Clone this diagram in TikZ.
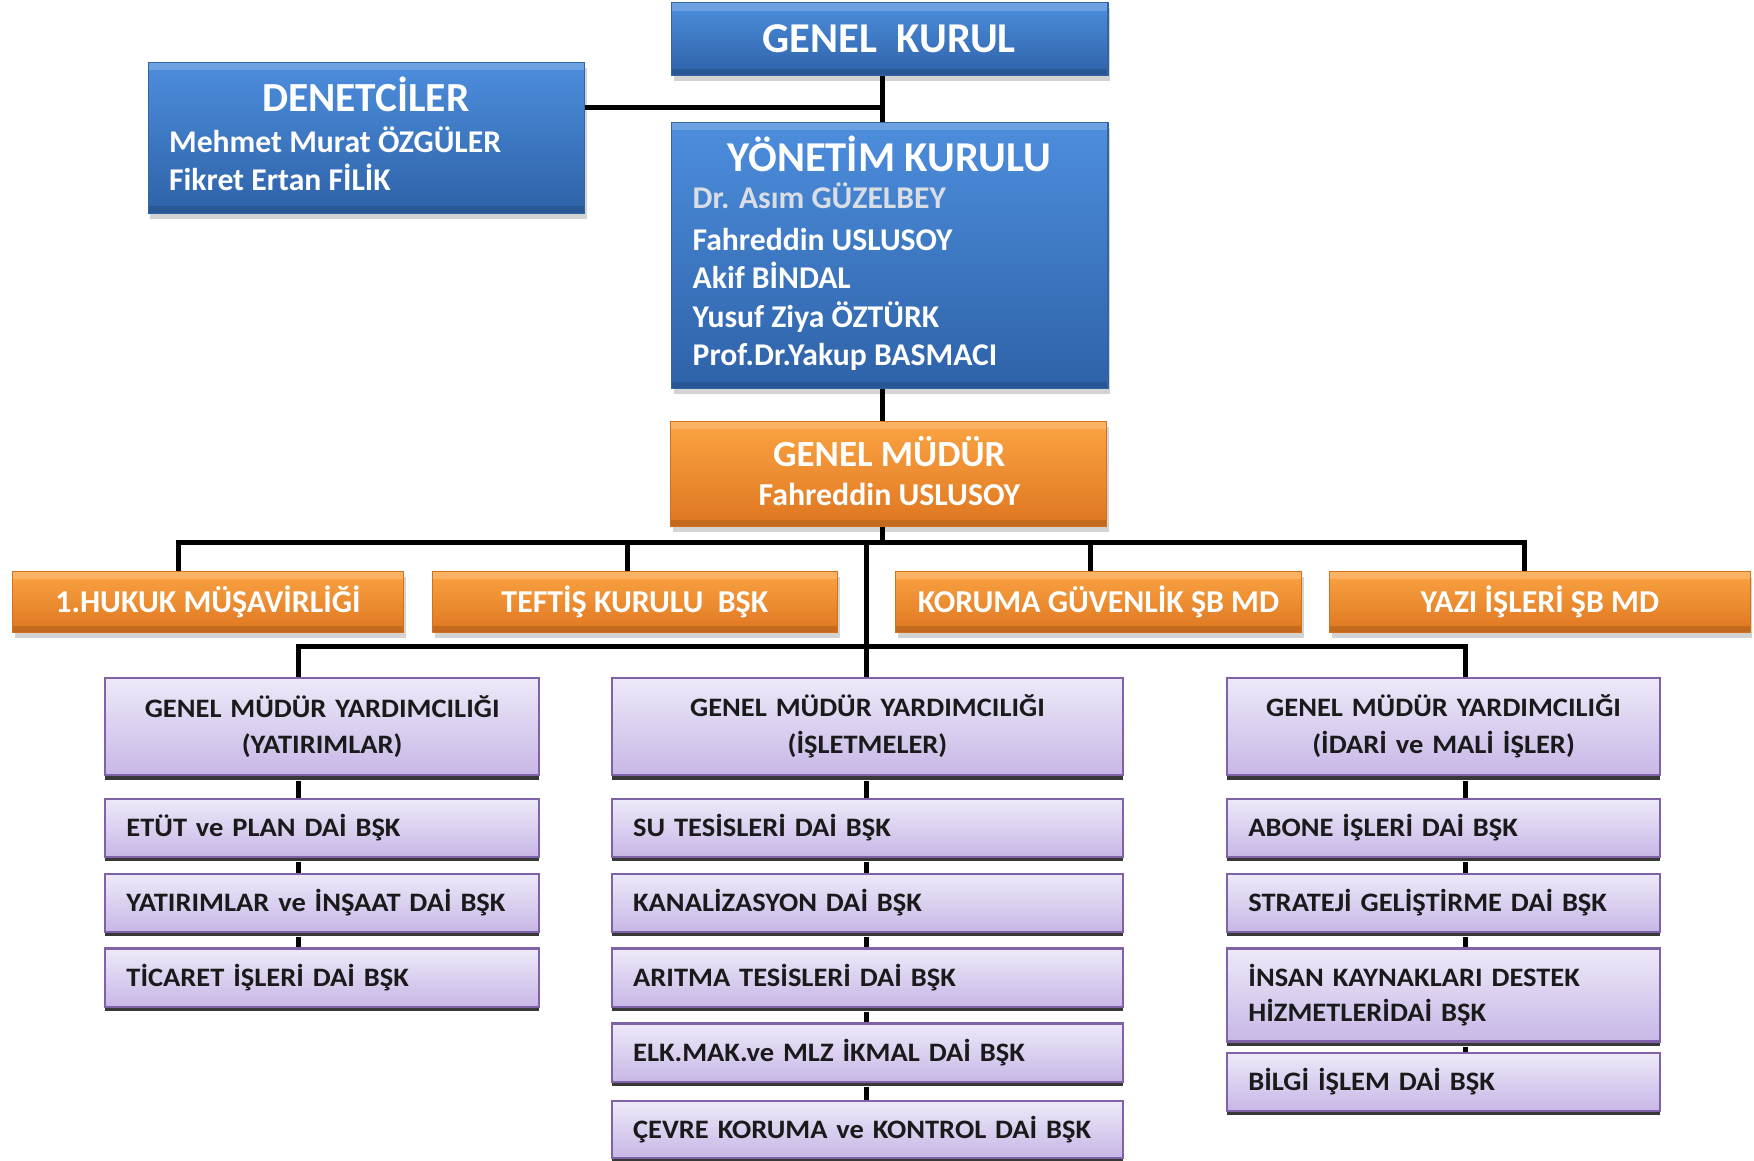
\documentclass[tikz,border=0pt]{standalone}
\usepackage{fontspec}
\setmainfont{Carlito}
\newfontfamily\purfont{Carlito}[FakeStretch=1.07]
\usetikzlibrary{shadows}
\definecolor{bluetop}{HTML}{4D8EDD}
\definecolor{bluebot}{HTML}{2E62A8}
\definecolor{blueedge}{HTML}{3464A3}
\definecolor{orgtop}{HTML}{FBA443}
\definecolor{orgbot}{HTML}{DE7620}
\definecolor{orgedge}{HTML}{D2701E}
\definecolor{purtop}{HTML}{EEE9F9}
\definecolor{purbot}{HTML}{C7B7E6}
\definecolor{puredge}{HTML}{7F62A8}
\definecolor{namegray}{HTML}{D9DEE6}
\definecolor{txtdark}{HTML}{1A1A1A}
\begin{document}
\begin{tikzpicture}[x=1pt,y=-1pt,
  bevel/.style={path picture={\fill[white,opacity=0.18] (path picture bounding box.north west) rectangle ([yshift=-7pt]path picture bounding box.north east);
     \fill[black,opacity=0.12] (path picture bounding box.south west) rectangle ([yshift=6pt]path picture bounding box.south east);}},
  bluebox/.style={rectangle, anchor=north west, inner sep=0pt, top color=bluetop, bottom color=bluebot, draw=blueedge, line width=1pt, bevel,
     drop shadow={shadow xshift=2pt, shadow yshift=-5pt, opacity=0.35}},
  orangebox/.style={rectangle, anchor=north west, inner sep=0pt, top color=orgtop, bottom color=orgbot, draw=orgedge, line width=1pt, bevel,
     drop shadow={shadow xshift=2pt, shadow yshift=-5pt, opacity=0.35},
     font=\fontsize{28.5}{32}\selectfont\bfseries, text=white},
  purplebox/.style={rectangle, anchor=north west, inner ysep=0pt, inner xsep=19pt, top color=purtop, bottom color=purbot, draw=puredge, line width=2pt,
     drop shadow={shadow xshift=0pt, shadow yshift=-4pt, fill=black!78, opacity=1},
     font=\purfont\fontsize{23.8}{33}\selectfont\bfseries, text=txtdark, align=left},
  titletext/.style={anchor=base, inner sep=0pt, text=white, font=\fontsize{37}{40}\selectfont\bfseries},
  nametext/.style={anchor=base west, inner sep=0pt, text=white, font=\fontsize{28.3}{30}\selectfont\bfseries},
  conn/.style={line width=4.5pt, black},
]
\useasboundingbox (0,0) rectangle (1568,1037);

% ---------- top level boxes ----------
\node[bluebox, minimum width=390pt, minimum height=65pt] (gk) at (600,2) {};
\node[titletext, font=\fontsize{38}{40}\selectfont\bfseries] (gkt) at (795,47) {GENEL\ \ KURUL};

\node[bluebox, minimum width=390pt, minimum height=135pt] (den) at (132,55) {};
\node[titletext, font=\fontsize{37}{40}\selectfont\bfseries] (dent) at (327,100) {DENETCİLER};
\node[nametext] (den1) at (151,136) {Mehmet Murat ÖZGÜLER};
\node[nametext] (den2) at (151,170) {Fikret Ertan FİLİK};

\node[bluebox, minimum width=390pt, minimum height=238pt] (yk) at (600,109) {};
\node[titletext, font=\fontsize{38}{40}\selectfont\bfseries] (ykt) at (795,153) {YÖNETİM KURULU};
\node[nametext, text=namegray] (yk1) at (619,186) {Dr. Asım GÜZELBEY};
\node[nametext] (yk2) at (619,224) {Fahreddin USLUSOY};
\node[nametext] (yk3) at (619,258) {Akif BİNDAL};
\node[nametext] (yk4) at (619,293) {Yusuf Ziya ÖZTÜRK};
\node[nametext] (yk5) at (619,327) {Prof.Dr.Yakup BASMACI};

\node[orangebox, minimum width=390pt, minimum height=94pt] (gm) at (599,376) {};
\node[titletext, font=\fontsize{33}{40}\selectfont\bfseries] (gmt) at (795,417) {GENEL MÜDÜR};
\node[titletext, font=\fontsize{28.5}{30}\selectfont\bfseries] (gmn) at (795,451.5) {Fahreddin USLUSOY};

% ---------- orange row ----------
\node[orangebox, minimum width=349pt, minimum height=55pt] (hukuk) at (11,510) {1.HUKUK MÜŞAVİRLİĞİ};
\node[orangebox, minimum width=362pt, minimum height=55pt] (teftis) at (386,510) {TEFTİŞ KURULU\ \ BŞK};
\node[orangebox, minimum width=363pt, minimum height=55pt] (koruma) at (800,510) {KORUMA GÜVENLİK ŞB MD};
\node[orangebox, minimum width=376pt, minimum height=55pt] (yazi) at (1188,510) {YAZI İŞLERİ ŞB MD};

% ---------- column 1 ----------
\node[purplebox, text width=350pt, minimum height=87pt, align=center] (gmy1) at (93,605) {GENEL MÜDÜR YARDIMCILIĞI\\(YATIRIMLAR)};
\node[purplebox, text width=350pt, minimum height=52pt] (c1a) at (93,713) {ETÜT ve PLAN DAİ BŞK};
\node[purplebox, text width=350pt, minimum height=52pt] (c1b) at (93,780) {YATIRIMLAR ve İNŞAAT DAİ BŞK};
\node[purplebox, text width=350pt, minimum height=52pt] (c1c) at (93,847) {TİCARET İŞLERİ DAİ BŞK};

% ---------- column 2 ----------
\node[purplebox, text width=419pt, minimum height=87pt, align=center] (gmy2) at (546,605) {GENEL MÜDÜR YARDIMCILIĞI\\(İŞLETMELER)};
\node[purplebox, text width=419pt, minimum height=52pt] (c2a) at (546,713) {SU TESİSLERİ DAİ BŞK};
\node[purplebox, text width=419pt, minimum height=52pt] (c2b) at (546,780) {KANALİZASYON DAİ BŞK};
\node[purplebox, text width=419pt, minimum height=52pt] (c2c) at (546,847) {ARITMA TESİSLERİ DAİ BŞK};
\node[purplebox, text width=419pt, minimum height=52pt] (c2d) at (546,914) {ELK.MAK.ve MLZ İKMAL DAİ BŞK};
\node[purplebox, text width=419pt, minimum height=51pt] (c2e) at (546,983) {ÇEVRE KORUMA ve KONTROL DAİ BŞK};

% ---------- column 3 ----------
\node[purplebox, text width=349pt, minimum height=87pt, align=center] (gmy3) at (1096,605) {GENEL MÜDÜR YARDIMCILIĞI\\(İDARİ ve MALİ İŞLER)};
\node[purplebox, text width=349pt, minimum height=52pt] (c3a) at (1096,713) {ABONE İŞLERİ DAİ BŞK};
\node[purplebox, text width=349pt, minimum height=52pt] (c3b) at (1096,780) {STRATEJİ GELİŞTİRME DAİ BŞK};
\node[purplebox, text width=349pt, minimum height=83pt, font=\purfont\fontsize{23.8}{32}\selectfont\bfseries] (c3c) at (1096,847) {İNSAN KAYNAKLARI DESTEK\\HİZMETLERİDAİ BŞK};
\node[purplebox, text width=349pt, minimum height=52pt] (c3d) at (1096,940) {BİLGİ İŞLEM DAİ BŞK};

% ---------- junction coordinates ----------
\coordinate (spine) at (789,0);
\coordinate (denJ) at (789,96);
\coordinate (busAM) at (789,485);
\coordinate (busAL) at (160,485);
\coordinate (busA2) at (561,485);
\coordinate (busAC) at (775,485);
\coordinate (busA3) at (975,485);
\coordinate (busAR) at (1363,485);
\coordinate (busBL) at (267,578);
\coordinate (busBC) at (775,578);
\coordinate (busBR) at (1310,578);

% ---------- connectors ----------
\draw[conn] (gk.south -| spine) -- (yk.north -| spine);
\draw[conn] (den.east |- denJ) -- (denJ);
\draw[conn] (yk.south -| spine) -- (gm.north -| spine);
\draw[conn] (gm.south -| spine) -- (busAM);
\draw[conn, line cap=rect] (busAL) -- (busAR);
\draw[conn] (busAL) -- (hukuk.north -| busAL);
\draw[conn] (busA2) -- (teftis.north -| busA2);
\draw[conn] (busA3) -- (koruma.north -| busA3);
\draw[conn] (busAR) -- (yazi.north -| busAR);
\draw[conn] (busAC) -- (busBC);
\draw[conn, line cap=rect] (busBL) -- (busBR);
\draw[conn] (busBL) -- (gmy1.north -| busBL);
\draw[conn] (busBC) -- (gmy2.north -| busBC);
\draw[conn] (busBR) -- (gmy3.north -| busBR);

\draw[conn] ([yshift=-4pt]gmy1.south -| busBL) -- (c1a.north -| busBL);
\draw[conn] ([yshift=-4pt]c1a.south -| busBL) -- (c1b.north -| busBL);
\draw[conn] ([yshift=-4pt]c1b.south -| busBL) -- (c1c.north -| busBL);

\draw[conn] ([yshift=-4pt]gmy2.south -| busBC) -- (c2a.north -| busBC);
\draw[conn] ([yshift=-4pt]c2a.south -| busBC) -- (c2b.north -| busBC);
\draw[conn] ([yshift=-4pt]c2b.south -| busBC) -- (c2c.north -| busBC);
\draw[conn] ([yshift=-4pt]c2c.south -| busBC) -- (c2d.north -| busBC);
\draw[conn] ([yshift=-4pt]c2d.south -| busBC) -- (c2e.north -| busBC);

\draw[conn] ([yshift=-4pt]gmy3.south -| busBR) -- (c3a.north -| busBR);
\draw[conn] ([yshift=-4pt]c3a.south -| busBR) -- (c3b.north -| busBR);
\draw[conn] ([yshift=-4pt]c3b.south -| busBR) -- (c3c.north -| busBR);
\draw[conn] ([yshift=-4pt]c3c.south -| busBR) -- (c3d.north -| busBR);
\end{tikzpicture}
\end{document}
